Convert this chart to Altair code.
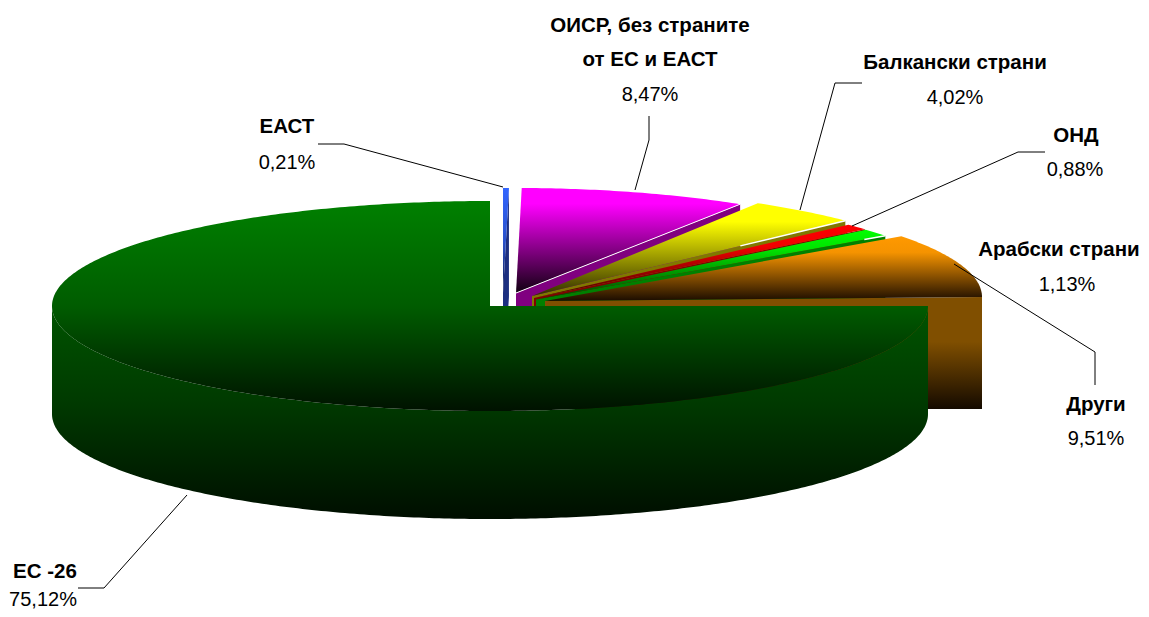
import math
import altair as alt
import pandas as pd

# ---- chart values ----
names = ["ЕАСТ", "ОИСР", "Балкански", "ОНД", "Арабски", "Други", "ЕС"]
values = [0.21, 8.47, 4.02, 0.88, 1.13, 9.51, 75.12]

label_titles = [["ЕАСТ"], ["ОИСР, без страните", "от ЕС и ЕАСТ"], ["Балкански страни"], ["ОНД"],
                ["Арабски страни"], ["Други"], ["ЕС -26"]]
label_values = ["0,21%", "8,47%", "4,02%", "0,88%", "1,13%", "9,51%", "75,12%"]

# ---- drawing layout ----
W, H = 1133, 601
RX, RY, DEPTH = 438, 105, 108
FONT = "Liberation Sans"
x_scale = alt.Scale(domain=[8, 8 + W], range=[0, W], nice=False, zero=False)
y_scale = alt.Scale(domain=[8, 8 + H], range=[0, H], nice=False, zero=False)

# the small slices share a quarter of the turn, the large slice the remainder
small_sum = sum(values[:6])
deg = [v * 90 / small_sum for v in values[:6]]
starts = [sum(deg[:i]) for i in range(6)]
ends = [sum(deg[:i + 1]) for i in range(6)]

pie_layout = {
    # arc centre, apex, horizontal radius, top stops, side colour
    "ЕАСТ": ((503, 293), (503, 293), RX, [("#3366ff", 0), ("#2a52cc", .5), ("#101c50", 1)], "#1c2f80"),
    "ОИСР": ((516, 293), (516, 293), 420, [("#ff00ff", 0), ("#ff00ff", .15), ("#100010", 1)], "#800080"),
    "Балкански": ((524, 292), (532, 296), RX, [("#ffff00", 0), ("#ffff00", .2), ("#302c00", 1)], "#807800"),
    "ОНД": ((527, 296), (534, 298), RX, [("#ff0000", 0), ("#f00000", .3), ("#400000", 1)], "#800000"),
    "Арабски": ((528, 296.5), (536, 299.5), RX, [("#00ff00", 0), ("#00e000", .3), ("#004000", 1)], "#008000"),
    "Други": ((544, 297), (545, 301), RX, [("#ff9900", 0), ("#f59300", .25), ("#1a0c00", 1)], "#804f00"),
}
highlight_from = {"Балкански": 0.665, "Арабски": 0.94}


def arc(c, a0, a1, rx=RX):
    n = max(2, int(abs(a1 - a0) * 1.5))
    pts = []
    for i in range(n + 1):
        t = math.radians(a0 + (a1 - a0) * i / n)
        pts.append((c[0] + rx * math.sin(t), c[1] - RY * math.cos(t)))
    return pts


def grad(stops):
    return alt.Gradient(gradient="linear", x1=0, x2=0, y1=0, y2=1,
                        stops=[alt.GradientStop(color=s[0], offset=s[1]) for s in stops])


def frame(pts):
    return pd.DataFrame({"x": [p[0] for p in pts], "y": [p[1] for p in pts], "o": range(len(pts))})


def poly(pts, fill):
    return alt.Chart(frame(pts)).mark_line(
        interpolate="linear-closed", fill=fill, strokeWidth=0, strokeOpacity=0
    ).encode(
        x=alt.X("x:Q", scale=x_scale, axis=None),
        y=alt.Y("y:Q", scale=y_scale, axis=None),
        order="o:Q",
    )


def path(pts, color="black", width=1.0):
    return alt.Chart(frame(pts)).mark_line(color=color, strokeWidth=width).encode(
        x=alt.X("x:Q", scale=x_scale, axis=None),
        y=alt.Y("y:Q", scale=y_scale, axis=None),
        order="o:Q",
    )


layers = []

# exploded slices, back to front
for i in range(6):
    centre, apex, rx, stops, side = pie_layout[names[i]]
    a0, a1 = starts[i], ends[i]
    top = [apex] + arc(centre, a0, a1, rx)
    tip = top[-1]
    if names[i] == "Други":
        face = [apex, tip, (tip[0], tip[1] + DEPTH + 4), (apex[0], apex[1] + DEPTH)]
        layers.append(poly(face, grad([(side, 0), (side, .4), ("#140a00", 1)])))
    else:
        face = [apex, tip, (tip[0], tip[1] + DEPTH), (apex[0], apex[1] + DEPTH)]
        layers.append(poly(face, side))
    layers.append(poly(top, grad(stops)))
    if names[i] == "ОИСР":
        layers.append(path([apex, tip], "white", 1))
    if names[i] in highlight_from:
        f = highlight_from[names[i]]
        mid = (apex[0] + f * (tip[0] - apex[0]), apex[1] + f * (tip[1] - apex[1]))
        layers.append(path([mid, tip], "white", 1.5))

# the large slice
centre_eu = (490, 306)
a0_eu, a1_eu = 90, 360
front = arc(centre_eu, 90, 270)
wall = front + [(x, y + DEPTH) for x, y in reversed(front)]
layers.append(poly(wall, grad([("#005400", 0), ("#003a00", .45), ("#000e00", 1)])))
layers.append(poly([centre_eu] + arc(centre_eu, a0_eu, a1_eu),
                   grad([("#008000", 0), ("#005c00", .5), ("#001200", 1)])))

# leader lines
leaders = [
    [(318, 144), (344, 144), (503, 187)],
    [(649, 116), (649, 140), (635, 190)],
    [(862, 83), (835, 83), (800, 210)],
    [(1045, 152), (1018, 152), (852, 226)],
    [(1095, 385), (1095, 352), (954, 264)],
    [(78, 588), (104, 588), (187, 495)],
]
for pts in leaders:
    layers.append(path(pts))

# labels
title_pos = [[(287, 127)], [(650, 26), (650, 60)], [(955, 63)], [(1076, 136)], [(1059, 250)], [(1096, 405)], [(45, 572)]]
value_pos = [(287, 163), (650, 95), (955, 98), (1075, 170), (1067, 285), (1096, 439), (43, 600)]

tx, ty, tt = [], [], []
for lines, pos in zip(label_titles, title_pos):
    for s, p in zip(lines, pos):
        tt.append(s); tx.append(p[0]); ty.append(p[1])
layers.append(alt.Chart(pd.DataFrame({"x": tx, "y": ty, "t": tt})).mark_text(
    font=FONT, fontSize=20.5, fontWeight="bold", color="black", baseline="middle", align="center"
).encode(x=alt.X("x:Q", scale=x_scale, axis=None), y=alt.Y("y:Q", scale=y_scale, axis=None), text="t:N"))
layers.append(alt.Chart(pd.DataFrame({"x": [p[0] for p in value_pos], "y": [p[1] for p in value_pos], "t": label_values})).mark_text(
    font=FONT, fontSize=20, color="black", baseline="middle", align="center"
).encode(x=alt.X("x:Q", scale=x_scale, axis=None), y=alt.Y("y:Q", scale=y_scale, axis=None), text="t:N"))

chart = alt.layer(*layers).properties(
    width=W, height=H, padding=0, autosize=alt.AutoSizeParams(type="none")
).configure_view(stroke=None)

chart.save("out.html", embed_options={"renderer": "svg", "actions": False})
